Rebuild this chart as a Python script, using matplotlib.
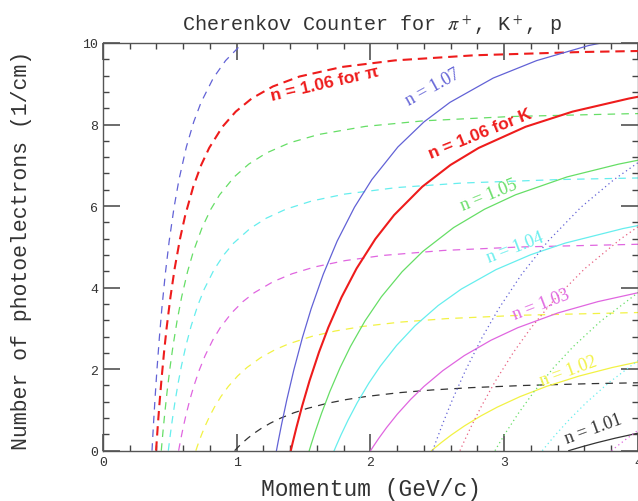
import matplotlib
matplotlib.use('Agg')
import matplotlib.pyplot as plt
from matplotlib.ticker import MultipleLocator

plt.rcParams['mathtext.fontset'] = 'stix'

# photoelectrons per cm vs momentum (GeV/c)
# pions (dashed)
pi_107_p = [0.3667, 0.3703, 0.3777, 0.3887, 0.4033, 0.4217, 0.4400, 0.4657, 0.4950, 0.5317, 0.5683,
            0.6233, 0.6783, 0.7333, 0.8250, 0.9167, 1.0266, 1.1733]
pi_107_n = [0, 0.2244, 0.6539, 1.2530, 1.9769, 2.7776, 3.4804, 4.3284, 5.1406, 5.9729, 6.6494,
            7.4491, 8.0624, 8.5429, 9.1405, 9.5680, 9.9377, 10.2782]
pi_106_p = [0.3970, 0.4010, 0.4089, 0.4208, 0.4367, 0.4565, 0.4764, 0.5042, 0.5359, 0.5756, 0.6153,
            0.6749, 0.7344, 0.7940, 0.8932, 0.9925, 1.1116, 1.2704, 1.4689, 1.7865, 2.1834, 2.7789,
            3.5729, 4.0]
pi_106_n = [0, 0.1951, 0.5683, 1.0891, 1.7183, 2.4143, 3.0251, 3.7621, 4.4681, 5.1915, 5.7795,
            6.4747, 7.0077, 7.4253, 7.9448, 8.3163, 8.6376, 8.9336, 9.1772, 9.4115, 9.5731, 9.6984,
            9.7782, 9.803]
pi_105_p = [0.4360, 0.4403, 0.4490, 0.4621, 0.4795, 0.5013, 0.5231, 0.5537, 0.5885, 0.6321, 0.6757,
            0.7411, 0.8065, 0.8719, 0.9809, 1.0899, 1.2207, 1.3950, 1.6130, 1.9618, 2.3977, 3.0517,
            3.9236, 4.0]
pi_105_n = [0, 0.1649, 0.4803, 0.9205, 1.4522, 2.0404, 2.5567, 3.1796, 3.7762, 4.3877, 4.8846,
            5.4721, 5.9226, 6.2756, 6.7146, 7.0286, 7.3001, 7.5503, 7.7562, 7.9542, 8.0908, 8.1966,
            8.2641, 8.268]
pi_104_p = [0.4886, 0.4935, 0.5032, 0.5179, 0.5374, 0.5619, 0.5863, 0.6205, 0.6596, 0.7085, 0.7573,
            0.8306, 0.9039, 0.9772, 1.0993, 1.2215, 1.3681, 1.5635, 1.8078, 2.1987, 2.6872, 3.4201,
            4.0]
pi_104_n = [0, 0.1338, 0.3898, 0.7469, 1.1784, 1.6558, 2.0747, 2.5802, 3.0643, 3.5605, 3.9637,
            4.4405, 4.8060, 5.0924, 5.4487, 5.7035, 5.9238, 6.1268, 6.2939, 6.4546, 6.5654, 6.6513,
            6.689]
pi_103_p = [0.5656, 0.5712, 0.5825, 0.5995, 0.6221, 0.6504, 0.6787, 0.7183, 0.7635, 0.8201, 0.8766,
            0.9615, 1.0463, 1.1312, 1.2726, 1.4140, 1.5836, 1.8099, 2.0926, 2.5451, 3.1107, 4.0]
pi_103_n = [0, 0.1018, 0.2966, 0.5683, 0.8967, 1.2599, 1.5786, 1.9632, 2.3316, 2.7091, 3.0160,
            3.3787, 3.6569, 3.8748, 4.1459, 4.3398, 4.5074, 4.6619, 4.7890, 4.9113, 4.9956, 5.063]
pi_102_p = [0.6944, 0.7013, 0.7152, 0.7361, 0.7638, 0.7985, 0.8333, 0.8819, 0.9374, 1.0069, 1.0763,
            1.1805, 1.2846, 1.3888, 1.5624, 1.7360, 1.9443, 2.2220, 2.5692, 3.1248, 4.0]
pi_102_n = [0, 0.0689, 0.2006, 0.3844, 0.6065, 0.8522, 1.0679, 1.3280, 1.5772, 1.8326, 2.0401,
            2.2855, 2.4737, 2.6211, 2.8045, 2.9356, 3.0490, 3.1535, 3.2395, 3.3222, 3.389]
pi_101_p = [0.9845, 0.9943, 1.0140, 1.0435, 1.0829, 1.1321, 1.1814, 1.2503, 1.3290, 1.4275, 1.5259,
            1.6736, 1.8213, 1.9689, 2.2150, 2.4612, 2.7565, 3.1503, 3.6425, 4.0]
pi_101_n = [0, 0.0349, 0.1018, 0.1951, 0.3078, 0.4325, 0.5419, 0.6739, 0.8003, 0.9299, 1.0353,
            1.1598, 1.2552, 1.3301, 1.4231, 1.4897, 1.5472, 1.6002, 1.6439, 1.666]

# kaons (solid)
k_107_p = [1.2969, 1.3099, 1.3358, 1.3747, 1.4266, 1.4914, 1.5563, 1.6471, 1.7508, 1.8805, 2.0102,
           2.2047, 2.3993, 2.5938, 2.9180, 3.2423, 3.6313, 4.1501]
k_107_n = [0, 0.2244, 0.6539, 1.2530, 1.9769, 2.7776, 3.4804, 4.3284, 5.1406, 5.9729, 6.6494,
           7.4491, 8.0624, 8.5429, 9.1405, 9.5680, 9.9377, 10.2782]
k_106_p = [1.4042, 1.4182, 1.4463, 1.4885, 1.5446, 1.6148, 1.6850, 1.7833, 1.8957, 2.0361, 2.1765,
           2.3871, 2.5978, 2.8084, 3.1595, 3.5105, 3.9318, 4.0]
k_106_n = [0, 0.1951, 0.5683, 1.0891, 1.7183, 2.4143, 3.0251, 3.7621, 4.4681, 5.1915, 5.7795,
           6.4747, 7.0077, 7.4253, 7.9448, 8.3163, 8.6376, 8.680]
k_105_p = [1.5420, 1.5574, 1.5883, 1.6345, 1.6962, 1.7733, 1.8504, 1.9583, 2.0817, 2.2359, 2.3901,
           2.6214, 2.8527, 3.0840, 3.4695, 3.8550, 4.0]
k_105_n = [0, 0.1649, 0.4803, 0.9205, 1.4522, 2.0404, 2.5567, 3.1796, 3.7762, 4.3877, 4.8846,
           5.4721, 5.9226, 6.2756, 6.7146, 7.0286, 7.124]
k_104_p = [1.7282, 1.7455, 1.7800, 1.8319, 1.9010, 1.9874, 2.0738, 2.1948, 2.3331, 2.5059, 2.6787,
           2.9379, 3.1972, 3.4564, 3.8885, 4.0]
k_104_n = [0, 0.1338, 0.3898, 0.7469, 1.1784, 1.6558, 2.0747, 2.5802, 3.0643, 3.5605, 3.9637,
           4.4405, 4.8060, 5.0924, 5.4487, 5.522]
k_103_p = [2.0005, 2.0205, 2.0605, 2.1205, 2.2006, 2.3006, 2.4006, 2.5406, 2.7007, 2.9007, 3.1008,
           3.4009, 3.7009, 4.0]
k_103_n = [0, 0.1018, 0.2966, 0.5683, 0.8967, 1.2599, 1.5786, 1.9632, 2.3316, 2.7091, 3.0160,
           3.3787, 3.6569, 3.874]
k_102_p = [2.4562, 2.4808, 2.5299, 2.6036, 2.7018, 2.8246, 2.9474, 3.1194, 3.3159, 3.5615, 3.8071, 4.0]
k_102_n = [0, 0.0689, 0.2006, 0.3844, 0.6065, 0.8522, 1.0679, 1.3280, 1.5772, 1.8326, 2.0401, 2.177]
k_101_p = [3.4821, 3.5169, 3.5866, 3.6910, 3.8303, 4.0]
k_101_n = [0, 0.0349, 0.1018, 0.1951, 0.3078, 0.430]

# protons (dotted)
p_107_p = [2.4649, 2.4895, 2.5388, 2.6128, 2.7114, 2.8346, 2.9579, 3.1304, 3.3276, 3.5741, 3.8206, 4.0]
p_107_n = [0, 0.2244, 0.6539, 1.2530, 1.9769, 2.7776, 3.4804, 4.3284, 5.1406, 5.9729, 6.6494, 7.065]
p_106_p = [2.6688, 2.6955, 2.7489, 2.8289, 2.9357, 3.0691, 3.2026, 3.3894, 3.6029, 3.8698, 4.0]
p_106_n = [0, 0.1951, 0.5683, 1.0891, 1.7183, 2.4143, 3.0251, 3.7621, 4.4681, 5.1915, 5.493]
p_105_p = [2.9307, 2.9600, 3.0186, 3.1065, 3.2238, 3.3703, 3.5168, 3.7220, 4.0]
p_105_n = [0, 0.1649, 0.4803, 0.9205, 1.4522, 2.0404, 2.5567, 3.1796, 3.876]
p_104_p = [3.2846, 3.3174, 3.3831, 3.4817, 3.6131, 3.7773, 4.0]
p_104_n = [0, 0.1338, 0.3898, 0.7469, 1.1784, 1.6558, 2.212]
p_103_p = [3.8020, 3.8400, 3.9161, 4.0]
p_103_n = [0, 0.1018, 0.2966, 0.499]

blue = '#6262d6'
red = '#ee1c1c'
green = '#66de66'
cyan = '#66eeee'
magenta = '#e066e0'
yellow = '#f2f244'
black = '#333333'

fig = plt.figure(figsize=(6.38, 5.02), dpi=100)
ax = fig.add_axes([0.1614, 0.1002, 0.8386, 0.8122])

dash = (0, (6, 5))
dot = (0, (1, 2.5))

# pions
ax.plot(pi_107_p, pi_107_n, color=blue, lw=0.9, ls=dash)
ax.plot(pi_106_p, pi_106_n, color=red, lw=1.5, ls=(0, (4.5, 2.8)))
ax.plot(pi_105_p, pi_105_n, color=green, lw=0.9, ls=dash)
ax.plot(pi_104_p, pi_104_n, color=cyan, lw=0.9, ls=dash)
ax.plot(pi_103_p, pi_103_n, color=magenta, lw=0.9, ls=dash)
ax.plot(pi_102_p, pi_102_n, color=yellow, lw=0.9, ls=dash)
ax.plot(pi_101_p, pi_101_n, color=black, lw=0.9, ls=dash)

# kaons
ax.plot(k_107_p, k_107_n, color=blue, lw=0.9)
ax.plot(k_106_p, k_106_n, color=red, lw=1.5)
ax.plot(k_105_p, k_105_n, color=green, lw=0.9)
ax.plot(k_104_p, k_104_n, color=cyan, lw=0.9)
ax.plot(k_103_p, k_103_n, color=magenta, lw=0.9)
ax.plot(k_102_p, k_102_n, color=yellow, lw=0.9)
ax.plot(k_101_p, k_101_n, color=black, lw=0.9)

# protons
ax.plot(p_107_p, p_107_n, color=blue, lw=0.9, ls=dot)
ax.plot(p_106_p, p_106_n, color='#e86080', lw=0.9, ls=dot)
ax.plot(p_105_p, p_105_n, color=green, lw=0.9, ls=dot)
ax.plot(p_104_p, p_104_n, color=cyan, lw=0.9, ls=dot)
ax.plot(p_103_p, p_103_n, color=magenta, lw=0.9, ls=dot)

# curve labels
lab = dict(family='Liberation Serif', size=13, rotation_mode='anchor', ha='left', va='bottom')
bold = dict(family='Liberation Sans', weight='bold', size=12.5, rotation_mode='anchor',
            ha='left', va='bottom')
ax.text(1.27, 8.52, 'n = 1.06 for π', color=red, rotation=13, **bold)
ax.text(2.46, 7.10, 'n = 1.06 for K', color=red, rotation=22, **bold)
ax.text(2.30, 8.40, 'n = 1.07', color=blue, rotation=29, **lab)
ax.text(2.70, 5.82, 'n = 1.05', color=green, rotation=22, **lab)
ax.text(2.90, 4.54, 'n = 1.04', color=cyan, rotation=21, **lab)
ax.text(3.09, 3.15, 'n = 1.03', color=magenta, rotation=21, **lab)
ax.text(3.29, 1.53, 'n = 1.02', color=yellow, rotation=20, **lab)
ax.text(3.48, 0.10, 'n = 1.01', color=black, rotation=20, **lab)

ax.set_xlim(0, 4)
ax.set_ylim(0, 10)
ax.xaxis.set_major_locator(MultipleLocator(1))
ax.xaxis.set_minor_locator(MultipleLocator(0.2))
ax.yaxis.set_major_locator(MultipleLocator(2))
ax.yaxis.set_minor_locator(MultipleLocator(0.4))
ax.tick_params(which='both', direction='in', top=True, right=True)
ax.tick_params(which='major', length=12, width=1.1, color='#444444',
               labelcolor='#333333', labelsize=9.5)
ax.tick_params(which='minor', length=4.5, width=1.0, color='#444444')
for lbl in ax.get_xticklabels() + ax.get_yticklabels():
    lbl.set_family('Liberation Mono')
for s in ax.spines.values():
    s.set_color('#555555')
    s.set_linewidth(1)

fig.text(0.583, 0.950, r'Cherenkov Counter for $\pi^+$, K$^+$, p', ha='center', va='center',
         family='Liberation Mono', size=14.5, color='#333333')
fig.text(0.581, 0.024, 'Momentum (GeV/c)', ha='center', va='center',
         family='Liberation Mono', size=16.5, color='#333333')
fig.text(0.034, 0.502, 'Number of photoelectrons (1/cm)', ha='center', va='center', rotation=90,
         family='Liberation Mono', size=15.5, color='#333333')

fig.savefig('out.png', dpi=100)
